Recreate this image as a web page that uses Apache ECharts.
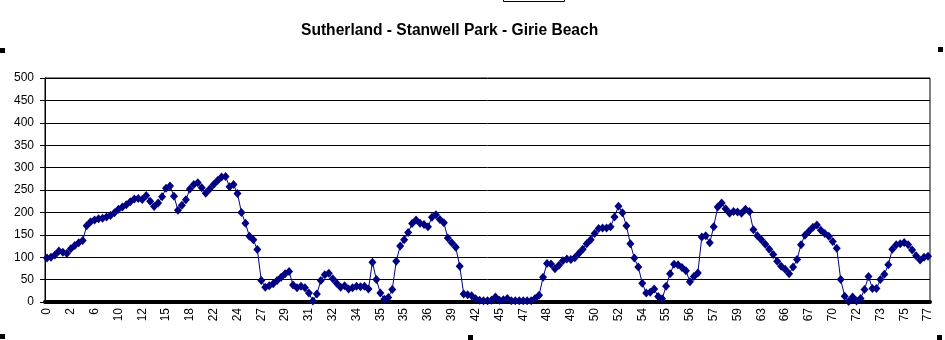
<!DOCTYPE html>
<html>
<head>
<meta charset="utf-8">
<script src="https://cdn.jsdelivr.net/npm/echarts@6/dist/echarts.min.js"></script>
<style>html,body{margin:0;padding:0;background:#fff;}#c{width:945px;height:340px;}</style>
</head>
<body>
<div id="c"></div>
<script>
const titleText = 'Sutherland - Stanwell Park - Girie Beach';
const tickLabels = [0,2,6,10,12,15,18,22,24,27,29,31,32,34,35,35,36,39,42,45,47,48,49,50,52,54,55,56,57,59,63,66,67,70,72,73,75,77];
const labelEvery = 6;
const elevation = [
98,100,105,114,111,108,119,126,132,137,
170,179,183,186,187,190,193,199,207,212,
217,224,230,231,229,238,225,213,221,235,
254,259,236,205,216,228,252,262,266,255,
243,252,262,271,279,280,257,262,242,200,
176,147,139,117,48,33,36,41,48,55,
63,68,38,32,35,32,20,2,18,48,
61,64,52,42,33,36,29,32,35,34,
35,29,89,50,20,6,10,28,91,125,
139,155,175,183,176,173,168,189,195,184,
177,143,132,122,80,18,16,14,7,4,
3,3,4,11,4,5,8,3,3,3,
3,3,3,8,15,55,86,85,74,82,
92,96,95,99,108,118,130,139,153,164,
165,165,168,190,214,199,170,130,98,78,
42,20,22,29,12,7,35,63,84,83,
77,70,45,57,65,145,148,132,168,212,
221,208,198,202,201,198,207,202,161,148,
139,129,118,106,91,80,73,63,78,95,
128,149,158,167,172,160,153,147,135,120,
50,13,1,11,2,8,28,57,30,30,
50,62,83,118,128,130,133,128,116,103,
94,100,102
];

const categories = elevation.map((v, i) => (i % labelEvery === 0 && tickLabels[i / labelEvery] !== undefined) ? String(tickLabels[i / labelEvery]) : '');
const font = '"Liberation Sans", Arial, sans-serif';

const chart = echarts.init(document.getElementById('c'));
chart.setOption({
  animation: false,
  backgroundColor: '#fff',
  title: {
    text: titleText,
    left: 296, top: 18,
    textStyle: {fontFamily: font, fontSize: 15.6, fontWeight: 'bold', color: '#000'}
  },
  grid: {left: 45, right: 15, top: 78, bottom: 38, show: true, borderColor: '#000', borderWidth: 1, containLabel: false},
  xAxis: {
    type: 'category',
    data: categories,
    boundaryGap: true,
    offset: 2,
    axisLine: {lineStyle: {color: '#000', width: 4}},
    axisTick: {show: false},
    axisLabel: {
      interval: (i) => i % labelEvery === 0,
      rotate: 90, margin: 4,
      fontFamily: font, fontSize: 12, color: '#000'
    },
    splitLine: {show: false}
  },
  yAxis: {
    type: 'value', min: 0, max: 500, interval: 50,
    axisLine: {show: true, lineStyle: {color: '#000', width: 1}},
    axisTick: {show: true, length: 5, lineStyle: {color: '#000'}},
    axisLabel: {margin: 11, fontFamily: font, fontSize: 12, color: '#000'},
    splitLine: {show: true, lineStyle: {color: '#000', width: 1}}
  },
  series: [{
    type: 'line',
    data: elevation,
    symbol: 'diamond',
    symbolSize: [8, 9],
    showAllSymbol: true,
    itemStyle: {color: '#000080'},
    lineStyle: {color: '#000080', width: 1}
  }],
  graphic: [
    {type: 'rect', shape: {x: 0, y: 48, width: 5, height: 5}, style: {fill: '#000'}},
    {type: 'rect', shape: {x: 938, y: 47, width: 5, height: 5}, style: {fill: '#000'}},
    {type: 'rect', shape: {x: 0, y: 334, width: 5, height: 5}, style: {fill: '#000'}},
    {type: 'rect', shape: {x: 468, y: 335, width: 5, height: 5}, style: {fill: '#000'}},
    {type: 'rect', shape: {x: 937, y: 335, width: 5, height: 5}, style: {fill: '#000'}},
    {type: 'rect', shape: {x: 503.5, y: -5, width: 61, height: 6.5}, style: {fill: 'none', stroke: '#000', lineWidth: 1}}
  ]
});
</script>
</body>
</html>
